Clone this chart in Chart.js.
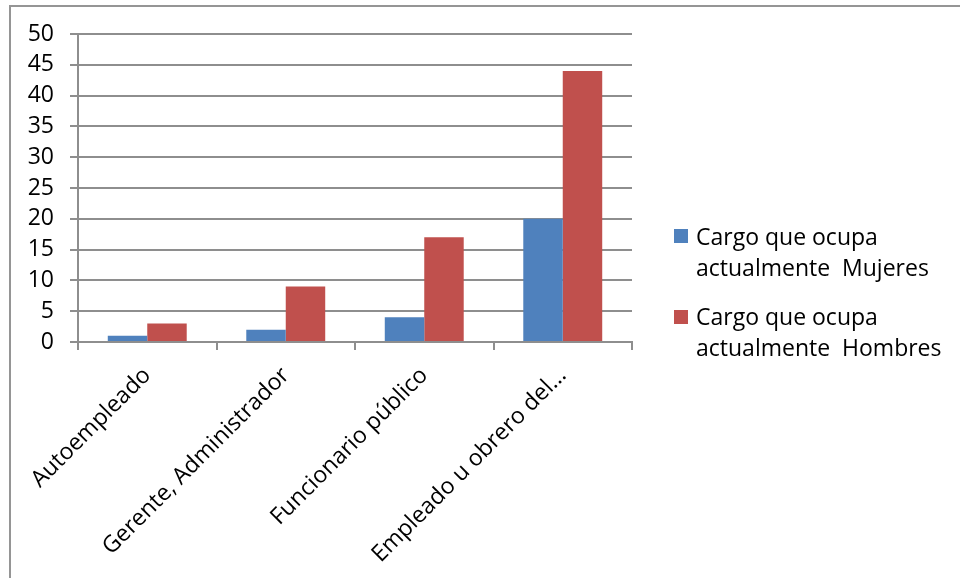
<!DOCTYPE html>
<html>
<head>
<meta charset="utf-8">
<script src="https://cdn.jsdelivr.net/npm/chart.js@4/dist/chart.umd.min.js"></script>
<style>
  body { margin: 0; width: 960px; height: 578px; overflow: hidden; background: #fff; font-family: "Open Sans", sans-serif; }
  #frame { position: absolute; left: 9px; top: 5px; width: 1200px; height: 1000px; border-left: 2px solid #959595; border-top: 2px solid #959595; }
  #wrap { position: absolute; left: 0; top: 0; width: 960px; height: 578px; }
  .key { position: absolute; width: 14px; height: 14px; }
  .txt { position: absolute; font-size: 23px; line-height: 31px; white-space: pre; color: #000; }
</style>
</head>
<body>
<div id="frame"></div>
<div id="wrap"><canvas id="myChart" width="960" height="578"></canvas></div>
<div class="key" style="left:674px; top:229px; background:#4F81BD;"></div>
<div class="txt" id="lbl0" style="left:696px; top:221px;"></div>
<div class="key" style="left:674px; top:310px; background:#C0504D;"></div>
<div class="txt" id="lbl1" style="left:696px; top:301px;"></div>
<script>
const categories = ['Autoempleado', 'Gerente, Administrador', 'Funcionario público', 'Empleado u obrero del...'];
const mujeres = [1, 2, 4, 20];
const hombres = [3, 9, 17, 44];
const seriesNames = ['Cargo que ocupa\nactualmente  Mujeres', 'Cargo que ocupa\nactualmente  Hombres'];
const colors = ['#4F81BD', '#C0504D'];

document.getElementById('lbl0').textContent = seriesNames[0];
document.getElementById('lbl1').textContent = seriesNames[1];

const gridColor = '#8e8e8e';
const font = { family: '"Open Sans", sans-serif', size: 23 };

const ctx = document.getElementById('myChart');
new Chart(ctx, {
    type: 'bar',
    data: {
        labels: categories,
        datasets: [{
            label: seriesNames[0],
            data: mujeres,
            backgroundColor: colors[0],
            barPercentage: 1,
            categoryPercentage: 0.57
        }, {
            label: seriesNames[1],
            data: hombres,
            backgroundColor: colors[1],
            barPercentage: 1,
            categoryPercentage: 0.57
        }]
    },
    options: {
        responsive: false,
        animation: false,
        devicePixelRatio: 1,
        layout: { padding: { top: 34, right: 328, bottom: 0, left: 0 } },
        plugins: { legend: { display: false }, tooltip: { enabled: false } },
        scales: {
            x: {
                offset: true,
                grid: { offset: true, drawOnChartArea: false, drawTicks: true, tickLength: 8, color: gridColor, lineWidth: 2 },
                border: { display: true, color: gridColor, width: 2 },
                ticks: { font: font, color: '#000', maxRotation: 45, minRotation: 45, padding: 12, autoSkip: false },
                afterFit: (scale) => {
                    scale.height = 236;
                    scale.paddingLeft = 0;
                    scale.paddingRight = 0;
                }
            },
            y: {
                min: 0,
                max: 50,
                ticks: { stepSize: 5, font: font, color: '#000', padding: 16 },
                grid: { color: gridColor, lineWidth: 2, tickLength: 8 },
                border: { display: true, color: gridColor, width: 2 },
                afterFit: (scale) => {
                    scale.width = 78;
                    scale.paddingTop = 0;
                    scale.paddingBottom = 0;
                }
            }
        }
    }
});
</script>
</body>
</html>
